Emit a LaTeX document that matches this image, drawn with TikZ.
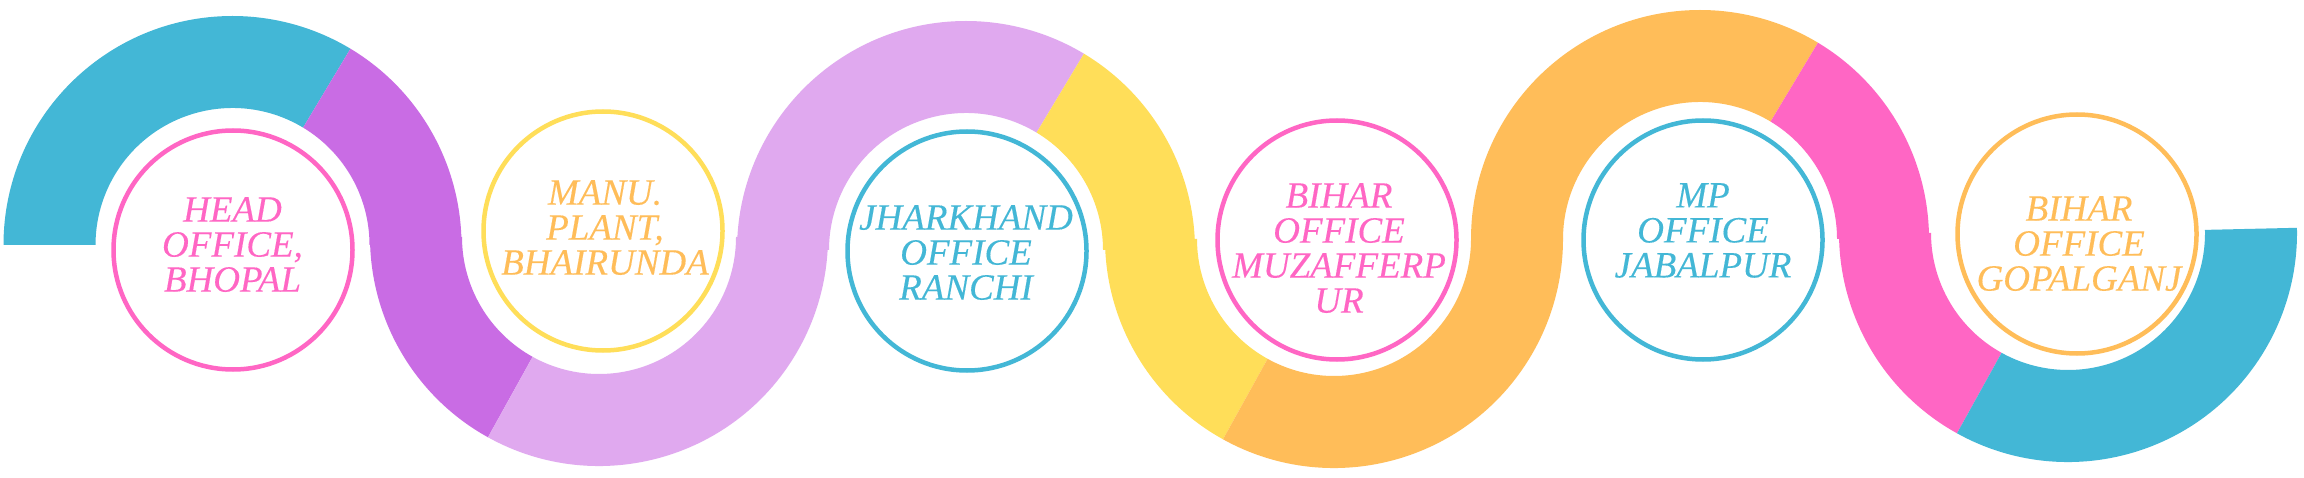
\documentclass[tikz,border=0pt]{standalone}
\usepackage{fontspec}
\setmainfont{Liberation Serif}
\newfontfamily\officefont{Liberation Serif}[ItalicFeatures={FakeBold=0.25}]
\definecolor{cyanc}{HTML}{43B7D6}
\definecolor{purplec}{HTML}{C96CE4}
\definecolor{lilacc}{HTML}{E0A9EF}
\definecolor{yellowc}{HTML}{FFDE59}
\definecolor{orangec}{HTML}{FFBD59}
\definecolor{pinkc}{HTML}{FF66C4}
\newcommand\bandpiece[4]{%
  \fill[#4, shift={(#1)}] (#2:229pt) arc[start angle=#2, end angle=#3, radius=229pt]
    -- (#3:137pt) arc[start angle=#3, end angle=#2, radius=137pt] -- cycle;}
\begin{document}
\begin{tikzpicture}[x=1pt,y=1pt,
  officering/.style={circle, draw=#1, line width=4.5pt, minimum size=239pt, inner sep=0pt},
  officetext/.style={text=#1, font=\officefont\fontsize{37}{35}\selectfont\itshape, align=center, anchor=north, inner sep=0pt}]
\useasboundingbox (0,0) rectangle (2304,477);
\fill[white] (0,0) rectangle (2304,477);
% wave band
\bandpiece{232.5,232}{180}{59}{cyanc}
\bandpiece{232.5,232}{59}{0}{purplec}
\bandpiece{599,240}{180}{241}{purplec}
\bandpiece{599,240}{241}{360}{lilacc}
\bandpiece{966,227}{180}{59}{lilacc}
\bandpiece{966,227}{59}{0}{yellowc}
\bandpiece{1334,238}{180}{241}{yellowc}
\bandpiece{1334,238}{241}{360}{orangec}
\bandpiece{1700,238}{180}{59}{orangec}
\bandpiece{1700,238}{59}{0}{pinkc}
\bandpiece{2068,244}{180}{241}{pinkc}
\bandpiece{2068,244}{241}{361.3}{cyanc}
% rings
\node[officering=pinkc]   (c1) at (233,227)  {};
\node[officering=yellowc] (c2) at (603,246)  {};
\node[officering=cyanc]   (c3) at (967,226)  {};
\node[officering=pinkc]   (c4) at (1337,237) {};
\node[officering=cyanc]   (c5) at (1703,237) {};
\node[officering=orangec] (c6) at (2077,243) {};
% texts
\node[officetext=pinkc]   (t1) at (232.5,280) {HEAD\\OFFICE,\\BHOPAL};
\node[officetext=orangec] (t2) at (605,297)   {MANU.\\PLANT,\\BHAIRUNDA};
\node[officetext=cyanc]   (t3) at (966,272)   {JHARKHAND\\OFFICE\\RANCHI};
\node[officetext=pinkc]   (t4) at (1339,294)  {BIHAR\\OFFICE\\MUZAFFERP\\UR};
\node[officetext=cyanc]   (t5) at (1703,294)  {MP\\OFFICE\\JABALPUR};
\node[officetext=orangec] (t6) at (2079,281)  {BIHAR\\OFFICE\\GOPALGANJ};
\end{tikzpicture}
\end{document}
